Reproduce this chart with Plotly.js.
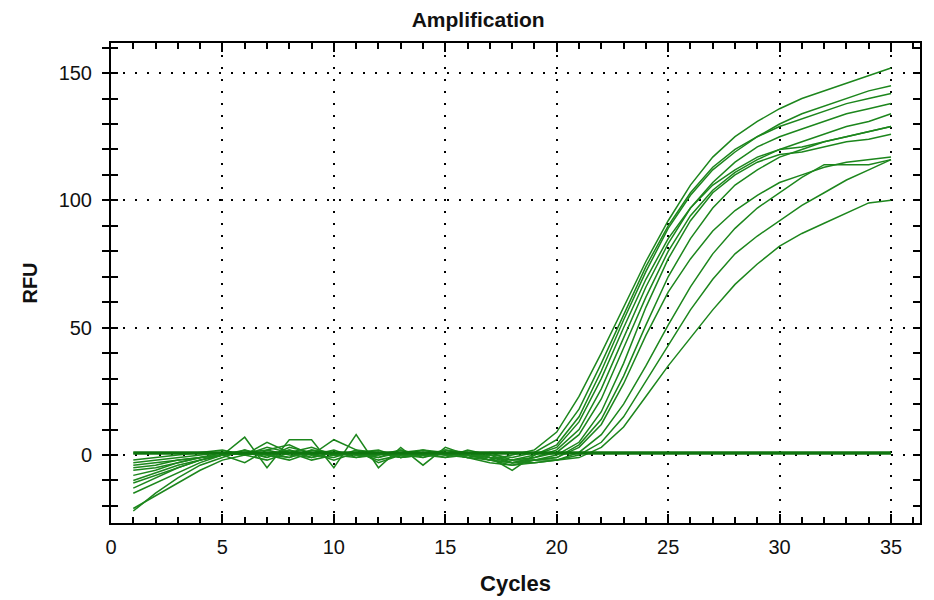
<!DOCTYPE html>
<html>
<head>
<meta charset="utf-8">
<script src="https://cdn.plot.ly/plotly-3.0.1.min.js"></script>
<style>html,body{margin:0;padding:0;background:#fff;}#chart{width:934px;height:600px;}</style>
</head>
<body>
<div id="chart"></div>
<script>
const cycles = [1,2,3,4,5,6,7,8,9,10,11,12,13,14,15,16,17,18,19,20,21,22,23,24,25,26,27,28,29,30,31,32,33,34,35];

const wellA = [-22,-15,-9,-4,-1,2,-1,3,1,-2,1,0,2,-1,1,0,-2,0,2,9,23,40,58,76,92,106,117,125,131,136,140,143,146,149,152];
const wellB = [-4,-3,-2,-1,0,1,2,0,-1,1,0,1,-1,0,1,-1,0,-1,1,6,18,36,55,74,90,103,113,120,125,130,134,137,140,143,145];
const wellC = [-13,-9,-5,-2,0,7,-5,6,6,-5,8,-5,3,-4,3,0,-1,-6,0,4,15,33,53,72,89,102,112,119,125,129,132,135,138,140,142];
const wellD = [-10,-7,-4,-2,0,-3,2,4,0,2,-1,0,1,2,0,-1,1,-2,-1,2,10,26,46,66,83,97,107,115,121,125,128,131,134,136,138];
const wellE = [-3,-2,-1,0,1,0,5,1,0,6,2,-3,0,1,-1,2,0,-3,-1,1,8,22,42,62,80,94,104,111,116,120,123,126,129,131,134];
const wellF = [-21,-16,-11,-6,-2,0,1,-1,2,0,1,-2,0,2,1,-1,-3,-4,-2,0,5,17,36,58,77,92,103,110,115,118,119,121,123,124,126];
const wellG = [-6,-5,-3,-1,0,1,-1,2,0,-1,2,1,-1,0,2,1,-1,-2,-2,-1,4,14,31,51,70,85,97,106,112,117,120,123,125,127,129];
const wellH = [-8,-6,-3,-1,1,0,3,1,-2,0,1,-1,2,0,-1,0,-2,-3,-2,-1,3,12,28,47,64,77,88,96,102,107,110,113,115,116,117];
const wellI = [-15,-11,-7,-3,0,2,0,-2,1,0,-1,1,0,-1,2,0,-1,-3,-2,-2,1,8,20,35,51,66,79,89,97,103,109,114,114,114,116];
const wellJ = [-2,-1,0,1,2,0,-2,1,3,0,1,2,-1,1,0,1,-2,-4,-3,-2,0,5,15,29,43,57,69,79,86,92,98,103,108,112,116];
const wellK = [-5,-4,-2,-1,0,1,0,2,-1,1,0,-1,1,0,1,-1,-2,-3,-3,-2,-1,3,11,23,35,46,57,67,75,82,87,91,95,99,100];
const wellL = [-11,-8,-5,-2,0,1,0,-1,2,1,0,1,-1,1,0,1,-1,-2,0,3,13,30,50,69,85,97,106,112,117,120,121,123,125,127,129];

const negA = [1,1,1,1,1,1,1,1,1,1,1,1,1,1,1,1,1,1,1,1,1,1,1,1,1,1,1,1,1,1,1,1,1,1,1];
const negB = [0.6,0.6,0.6,0.6,0.6,0.6,0.6,0.6,0.6,0.6,0.6,0.6,0.6,0.6,0.6,0.6,0.6,0.6,0.6,0.6,0.6,0.6,0.6,0.6,0.6,0.6,0.6,0.6,0.6,0.6,0.6,0.6,0.6,0.6,0.6];

const xTickVals = [0,5,10,15,20,25,30,35];
const yTickVals = [0,50,100,150];

const posWells = [wellA,wellB,wellC,wellD,wellE,wellF,wellG,wellH,wellI,wellJ,wellK,wellL];
const traces = [];
posWells.forEach(w => traces.push({x: cycles, y: w, type: 'scatter', mode: 'lines',
  line: {color: '#1c861c', width: 1.5}, hoverinfo: 'skip', showlegend: false}));
traces.push({x: cycles, y: negB, type: 'scatter', mode: 'lines', line: {color: '#127a12', width: 2.5}, showlegend: false});
traces.push({x: cycles, y: negA, type: 'scatter', mode: 'lines', yaxis: 'y2', line: {color: '#0e750e', width: 2.5}, showlegend: false});

const xr = [0, 36.3];
const yr = [-26.7, 161.8];
const font = {family: 'Liberation Sans, Arial, sans-serif', color: '#111'};

const layout = {
  width: 934, height: 600,
  margin: {l: 111, r: 14, t: 43, b: 77},
  paper_bgcolor: '#fff', plot_bgcolor: '#fff',
  font: font,
  title: {text: '<b>Amplification</b>', font: {size: 21, family: font.family, color: '#111'},
          xref: 'container', x: 0.512, xanchor: 'center', yref: 'container', y: 0.968, yanchor: 'middle'},
  xaxis: {
    range: xr, tickvals: xTickVals, ticktext: xTickVals.map(String),
    ticks: 'inside', ticklen: 9, tickwidth: 2, tickcolor: '#000',
    minor: {dtick: 1, ticks: 'inside', ticklen: 6, tickwidth: 2, tickcolor: '#000', showgrid: false},
    showline: true, linecolor: '#000', linewidth: 2, mirror: 'ticks',
    showgrid: true, gridcolor: '#000', gridwidth: 2, griddash: '2px,10px',
    zeroline: false, tickfont: {size: 20, color: '#111'}, ticklabelstandoff: 5,
    title: {text: '<b>Cycles</b>', font: {size: 22, color: '#111'}, standoff: 19}
  },
  yaxis: {
    range: yr, tickvals: yTickVals, ticktext: yTickVals.map(String),
    ticks: 'outside', ticklen: 7, tickwidth: 2, tickcolor: '#000',
    minor: {dtick: 10, tick0: 0, ticks: 'outside', ticklen: 7, tickwidth: 2, tickcolor: '#000', showgrid: false},
    showline: true, linecolor: '#000', linewidth: 2, mirror: true,
    showgrid: true, gridcolor: '#000', gridwidth: 2, griddash: '2px,10px',
    zeroline: false, tickfont: {size: 20, color: '#111'}, ticklabelstandoff: 6,
    title: {text: '<b>RFU</b>', font: {size: 20, color: '#111'}, standoff: 16}
  },
  yaxis2: {
    range: yr, overlaying: 'y', side: 'left', showticklabels: false,
    tickvals: yTickVals,
    ticks: 'inside', ticklen: 7, tickwidth: 2, tickcolor: '#000',
    minor: {dtick: 10, tick0: 0, ticks: 'inside', ticklen: 7, tickwidth: 2, tickcolor: '#000', showgrid: false},
    showline: true, linecolor: '#000', linewidth: 2, mirror: 'ticks',
    showgrid: false, zeroline: false
  }
};

Plotly.newPlot('chart', traces, layout, {displayModeBar: false, staticPlot: true});
</script>
</body>
</html>
